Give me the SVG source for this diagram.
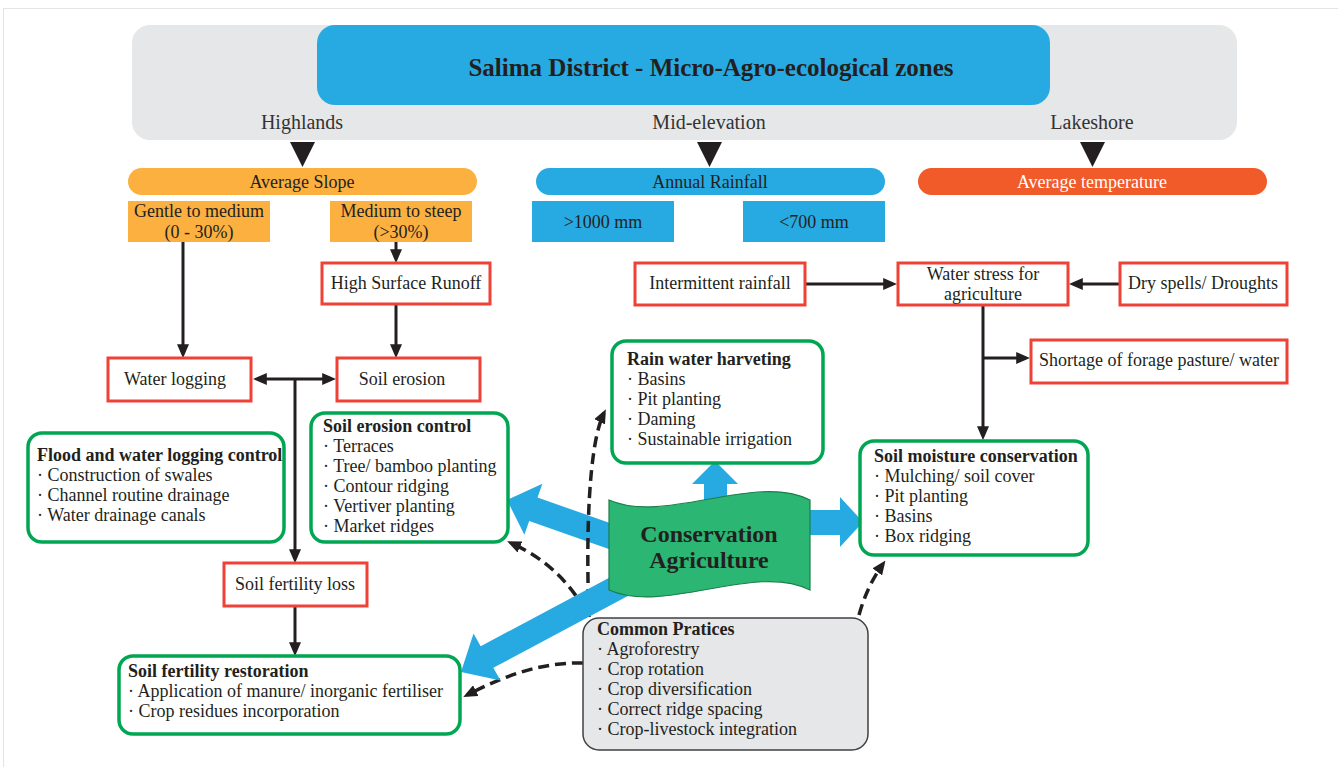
<svg xmlns="http://www.w3.org/2000/svg" width="1338" height="767" viewBox="0 0 1338 767">
<style>
text{font-family:"Liberation Serif","Times New Roman",serif;fill:#231F20;font-size:18px}
.c{text-anchor:middle}
.b{font-weight:bold}
.red{fill:#fff;stroke:#EF4136;stroke-width:3}
.grn{fill:#fff;stroke:#00A651;stroke-width:3.5}
.ln{fill:none;stroke:#231F20;stroke-width:3}
.dash{fill:none;stroke:#231F20;stroke-width:3.5;stroke-dasharray:11 6}
.blue{fill:#27AAE1}
</style>
<defs>
<marker id="ah" viewBox="0 0 10 10" refX="7" refY="5" markerWidth="14" markerHeight="12" markerUnits="userSpaceOnUse" orient="auto-start-reverse" preserveAspectRatio="none"><path d="M0,0 L10,5 L0,10 z" fill="#231F20"/></marker>
</defs>
<rect x="3.5" y="8.5" width="1400" height="800" fill="#fff" stroke="#E3E4E6"/>
<g id="header">
<rect x="132" y="25" width="1105" height="115" rx="18" fill="#E6E7E8"/>
<rect x="317" y="25" width="733" height="80" rx="18" fill="#27AAE1"/>
<text class="c b" x="711" y="76" style="font-size:25px">Salima District - Micro-Agro-ecological zones</text>
<text class="c" x="302" y="129" style="font-size:20px;fill:#333">Highlands</text>
<text class="c" x="709" y="129" style="font-size:20px;fill:#333">Mid-elevation</text>
<text class="c" x="1092" y="129" style="font-size:20px;fill:#333">Lakeshore</text>
<path d="M290,142 L315,142 L302.5,167 Z M697,142 L722,142 L709.5,167 Z M1080,142 L1105,142 L1092.5,167 Z" fill="#231F20"/>
</g>
<g id="slope">
<rect x="128" y="168" width="349" height="27" rx="13.5" fill="#FBB040"/>
<text class="c" x="302" y="188">Average Slope</text>
</g>
<g id="rainfall">
<rect x="536" y="168" width="349" height="27" rx="13.5" fill="#27AAE1"/>
<text class="c" x="710" y="188">Annual Rainfall</text>
</g>
<g id="temperature">
<rect x="918" y="168" width="349" height="27" rx="13.5" fill="#F15A29"/>
<text class="c" x="1092" y="188" style="fill:#fff">Average temperature</text>
</g>
<g id="gentle">
<rect x="128" y="201" width="142" height="41" fill="#FBB040"/>
<text class="c" x="199" y="217">Gentle to medium</text>
<text class="c" x="199" y="238">(0 - 30%)</text>
</g>
<g id="steep">
<rect x="330" y="201" width="142" height="41" fill="#FBB040"/>
<text class="c" x="401" y="217">Medium to steep</text>
<text class="c" x="401" y="238">(&gt;30%)</text>
</g>
<g id="r1000">
<rect x="532" y="201" width="142" height="41" fill="#27AAE1"/>
<text class="c" x="603" y="228">&gt;1000 mm</text>
</g>
<g id="r700">
<rect x="743" y="201" width="142" height="41" fill="#27AAE1"/>
<text class="c" x="814" y="228">&lt;700 mm</text>
</g>
<g id="connectors">
<path class="ln" d="M183,242 L183,354" marker-end="url(#ah)"/>
<path class="ln" d="M396,242 L396,259" marker-end="url(#ah)"/>
<path class="ln" d="M396,305 L396,354" marker-end="url(#ah)"/>
<path class="ln" d="M257,379 L332,379" marker-start="url(#ah)" marker-end="url(#ah)"/>
<path class="ln" d="M295,379 L295,559" marker-end="url(#ah)"/>
<path class="ln" d="M295,607 L295,652" marker-end="url(#ah)"/>
<path class="ln" d="M806,284 L893,284" marker-end="url(#ah)"/>
<path class="ln" d="M1119,284 L1073,284" marker-end="url(#ah)"/>
<path class="ln" d="M983,305 L983,436" marker-end="url(#ah)"/>
<path class="ln" d="M983,358 L1026,358" marker-end="url(#ah)"/>
<polygon class="blue" points="625.5,528.5 537.5,497.5 542.4,483.8 507,500 524.4,534.8 529.2,521.1 617.3,552.1"/>
<path class="dash" d="M589,617 C586,540 588,445 604,413" marker-end="url(#ah)"/>
<path class="dash" d="M585,610 C565,575 538,555 511,543" marker-end="url(#ah)"/>
<path class="dash" d="M583,663 C535,662 497,680 467,695" marker-end="url(#ah)"/>
<path class="dash" d="M859,615 Q867,586 883,564" marker-end="url(#ah)"/>
<polygon class="blue" points="615.7,574.2 480.7,646.2 473.5,633.6 461,672 500.5,680.4 493.3,667.8 628.3,595.8"/>
<polygon class="blue" points="704,505 704,484 692,484 715,461 738,484 727,484 727,505"/>
<polygon class="blue" points="800,510 840,510 840,497 863,522 840,547 840,535 800,535"/>
</g>
<g id="runoff">
<rect class="red" x="322" y="263" width="168" height="41"/>
<text class="c" x="406" y="289">High Surface Runoff</text>
</g>
<g id="waterlogging">
<rect class="red" x="108" y="358" width="143" height="43"/>
<text class="c" x="175" y="385">Water logging</text>
</g>
<g id="soilerosion">
<rect class="red" x="337" y="358" width="143" height="43"/>
<text class="c" x="402" y="385">Soil erosion</text>
</g>
<g id="fertilityloss">
<rect class="red" x="224" y="563" width="143" height="43"/>
<text class="c" x="295" y="590">Soil fertility loss</text>
</g>
<g id="intermittent">
<rect class="red" x="635" y="263" width="170" height="42"/>
<text class="c" x="720" y="289">Intermittent rainfall</text>
</g>
<g id="waterstress">
<rect class="red" x="898" y="263" width="170" height="42"/>
<text class="c" x="983" y="280">Water stress for</text>
<text class="c" x="983" y="300">agriculture</text>
</g>
<g id="dryspells">
<rect class="red" x="1120" y="263" width="167" height="42"/>
<text class="c" x="1203" y="289">Dry spells/ Droughts</text>
</g>
<g id="shortage">
<rect class="red" x="1031" y="340" width="256" height="43"/>
<text class="c" x="1159" y="366">Shortage of forage pasture/ water</text>
</g>
<g id="flood">
<rect class="grn" x="28" y="433" width="256" height="109" rx="14"/>
<text class="b" x="37" y="461">Flood and water logging control</text>
<text x="37" y="481">· Construction of swales</text>
<text x="37" y="501">· Channel routine drainage</text>
<text x="37" y="521">· Water drainage canals</text>
</g>
<g id="erosioncontrol">
<rect class="grn" x="311" y="413" width="197" height="129" rx="14"/>
<text class="b" x="323" y="432">Soil erosion control</text>
<text x="323" y="452">· Terraces</text>
<text x="323" y="472">· Tree/ bamboo planting</text>
<text x="323" y="492">· Contour ridging</text>
<text x="323" y="512">· Vertiver planting</text>
<text x="323" y="532">· Market ridges</text>
</g>
<g id="rainwater">
<rect class="grn" x="612" y="341" width="211" height="122" rx="14"/>
<text class="b" x="627" y="365">Rain water harveting</text>
<text x="627" y="385">· Basins</text>
<text x="627" y="405">· Pit planting</text>
<text x="627" y="425">· Daming</text>
<text x="627" y="445">· Sustainable irrigation</text>
</g>
<g id="moisture">
<rect class="grn" x="860" y="441" width="228" height="114" rx="14"/>
<text class="b" x="874" y="462">Soil moisture conservation</text>
<text x="874" y="482">· Mulching/ soil cover</text>
<text x="874" y="502">· Pit planting</text>
<text x="874" y="522">· Basins</text>
<text x="874" y="542">· Box ridging</text>
</g>
<g id="restoration">
<rect class="grn" x="119" y="656" width="341" height="78" rx="14"/>
<text class="b" x="128" y="677">Soil fertility restoration</text>
<text x="128" y="697">· Application of manure/ inorganic fertiliser</text>
<text x="128" y="717">· Crop residues incorporation</text>
</g>
<g id="common">
<rect x="583" y="618" width="285" height="132" rx="16" fill="#E6E7E8" stroke="#414042" stroke-width="1.5"/>
<text class="b" x="597" y="635">Common Pratices</text>
<text x="597" y="655">· Agroforestry</text>
<text x="597" y="675">· Crop rotation</text>
<text x="597" y="695">· Crop diversification</text>
<text x="597" y="715">· Correct ridge spacing</text>
<text x="597" y="735">· Crop-livestock integration</text>
</g>
<g id="conservation">
<path d="M609,500 C665,525 755,472 810,500 L810,590 C755,562 665,615 609,590 Z" fill="#2BB673" stroke="#1B7F4A" stroke-width="1.2"/>
<text class="c b" x="709" y="542" style="font-size:24px">Conservation</text>
<text class="c b" x="709" y="568" style="font-size:24px">Agriculture</text>
</g>
</svg>
